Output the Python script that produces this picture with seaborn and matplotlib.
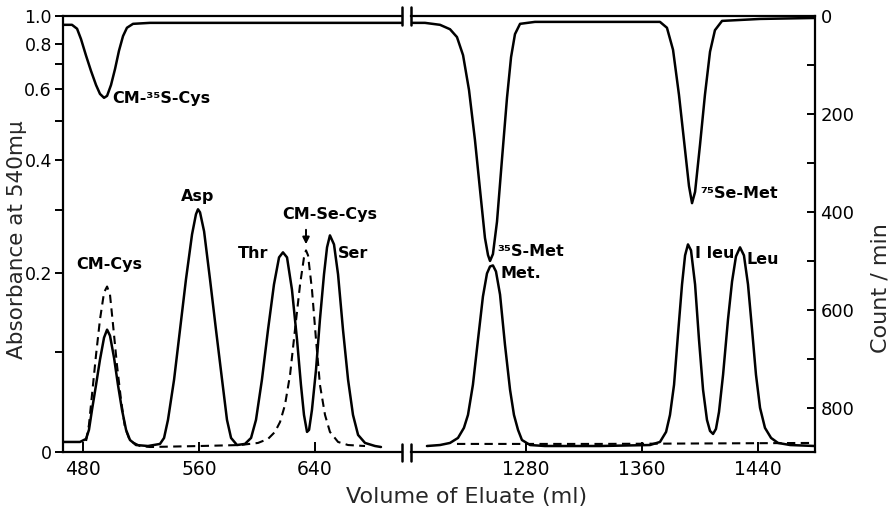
import numpy as np
import matplotlib
matplotlib.use("Agg")
import matplotlib.pyplot as plt
from matplotlib.lines import Line2D
import seaborn as sns

# ---------------- data ----------------
left_ml_solid = [466.2, 477.9, 482.1, 484.1, 486.2, 489.0, 491.7, 494.5, 496.6, 498.6, 501.4, 504.1,
                 506.9, 509.7, 512.4, 516.6, 524.8, 533.1, 535.9, 538.6, 542.8, 546.9, 551.0, 555.2,
                 557.9, 559.3, 560.7, 563.5, 567.6, 571.7, 575.9, 579.3, 582.1, 586.2, 591.7, 595.9,
                 599.3, 603.4, 607.6, 611.7, 615.2, 617.9, 620.7, 624.1, 627.6, 630.3, 632.4, 634.5,
                 635.9, 637.9, 640.7, 643.4, 646.2, 648.3, 650.3, 653.1, 655.9, 659.3, 662.8, 666.2,
                 669.7, 674.5, 681.4, 685.5]
left_abs_solid = [0.0091, 0.0091, 0.0119, 0.0203, 0.0395, 0.0649, 0.0918, 0.1169, 0.1264, 0.1193, 0.0940, 0.0649,
                  0.0395, 0.0203, 0.0109, 0.0063, 0.0054, 0.0073, 0.0128, 0.0298, 0.0702, 0.1264, 0.1912, 0.2591,
                  0.2930, 0.3019, 0.2965, 0.2640, 0.1912, 0.1264, 0.0702, 0.0298, 0.0128, 0.0063, 0.0073, 0.0128,
                  0.0298, 0.0702, 0.1264, 0.1843, 0.2231, 0.2307, 0.2231, 0.1774, 0.1146, 0.0649, 0.0346, 0.0184,
                  0.0203, 0.0395, 0.0809, 0.1387, 0.1983, 0.2384, 0.2574, 0.2430, 0.1983, 0.1264, 0.0702, 0.0346,
                  0.0156, 0.0082, 0.0054, 0.0045]

left_ml_dash = [482.1, 484.1, 486.2, 489.0, 491.7, 494.5, 496.6, 498.6, 500.7, 503.4, 506.2, 509.0,
                512.4, 519.3, 526.2, 560.7, 588.3, 600.7, 607.6, 612.4, 615.9, 619.3, 622.8, 626.2,
                629.7, 632.4, 633.8, 635.2, 637.9, 640.7, 643.4, 646.9, 650.3, 655.9, 662.8, 674.5]
left_abs_dash = [0.0100, 0.0250, 0.0546, 0.0974, 0.1387, 0.1734, 0.1815, 0.1707, 0.1325, 0.0863, 0.0495, 0.0222,
                 0.0100, 0.0054, 0.0045, 0.0054, 0.0063, 0.0082, 0.0119, 0.0184, 0.0278, 0.0444, 0.0754, 0.1264,
                 0.1843, 0.2231, 0.2337, 0.2261, 0.1774, 0.1146, 0.0649, 0.0346, 0.0184, 0.0091, 0.0063, 0.0054]

left_ml_count = [466.2, 472.4, 475.9, 478.6, 482.1, 485.5, 489.0, 491.7, 494.5, 496.6, 499.3, 502.1,
                 504.8, 507.6, 510.3, 514.5, 526.2, 595.2, 700.0]
left_count = [18, 18, 26, 47, 81, 112, 141, 159, 167, 163, 141, 108,
              71, 41, 24, 16, 14, 14, 14]

right_ml_solid = [1211.7, 1220.7, 1227.6, 1233.1, 1237.2, 1240.0, 1243.4, 1246.9, 1250.3, 1253.1, 1255.2, 1257.2,
                  1259.3, 1262.1, 1265.5, 1269.0, 1271.7, 1274.5, 1277.2, 1282.8, 1293.1, 1331.0, 1365.5, 1372.4,
                  1376.6, 1379.3, 1382.1, 1384.8, 1387.6, 1389.7, 1391.7, 1393.8, 1396.6, 1399.3, 1402.1, 1404.8,
                  1406.9, 1409.0, 1411.0, 1413.1, 1415.9, 1419.3, 1422.1, 1424.8, 1427.6, 1430.3, 1433.1, 1435.9,
                  1438.6, 1441.4, 1444.8, 1449.0, 1453.8, 1462.1, 1479.3]
right_abs_solid = [0.0054, 0.0063, 0.0082, 0.0128, 0.0222, 0.0346, 0.0649, 0.1146, 0.1681, 0.1997, 0.2097, 0.2112,
                   0.2025, 0.1707, 0.1088, 0.0597, 0.0346, 0.0203, 0.0109, 0.0063, 0.0054, 0.0054, 0.0063, 0.0091,
                   0.0184, 0.0346, 0.0649, 0.1205, 0.1843, 0.2261, 0.2430, 0.2337, 0.1843, 0.1146, 0.0597, 0.0298,
                   0.0193, 0.0165, 0.0212, 0.0375, 0.0754, 0.1387, 0.1884, 0.2246, 0.2384, 0.2261, 0.1843, 0.1264,
                   0.0754, 0.0415, 0.0222, 0.0128, 0.0082, 0.0063, 0.0054]

right_ml_dash = [1232.4, 1331.0, 1479.3]
right_abs_dash = [0.0073, 0.0073, 0.0082]

right_ml_count = [1200.7, 1210.3, 1220.7, 1227.6, 1232.4, 1236.6, 1240.7, 1244.8, 1248.3, 1251.7, 1253.8, 1255.2,
                  1257.2, 1260.0, 1263.4, 1266.9, 1269.7, 1272.4, 1275.9, 1286.2, 1372.4, 1377.2, 1381.4, 1385.5,
                  1389.7, 1392.4, 1394.5, 1396.6, 1400.0, 1403.4, 1406.9, 1410.3, 1415.2, 1441.4, 1479.3]
right_count = [14, 14, 18, 27, 43, 80, 151, 253, 355, 453, 488, 500,
               486, 420, 294, 167, 84, 37, 16, 12, 12, 24, 69, 161,
               274, 347, 382, 359, 263, 161, 73, 29, 10, 6, 4]

left_xticks = [480, 560, 640]
right_xticks = [1280, 1360, 1440]
abs_ticks = [0, 0.2, 0.4, 0.6, 0.8, 1.0]
abs_labels = ["0", "0.2", "0.4", "0.6", "0.8", "1.0"]
abs_minor = [0.1, 0.3, 0.5, 0.7]
count_ticks = [0, 200, 400, 600, 800]
count_minor = [100, 300, 500, 700]

# ---------------- figure ----------------
sns.set_theme(style="white")
plt.rcParams["font.family"] = ["DejaVu Sans"]

W, H = 896, 515
fig = plt.figure(figsize=(W / 100, H / 100), dpi=100)


def fx(px):
    return px / W


def fy(py):
    return 1 - py / H


TOP, BOT = 16, 452
axL = fig.add_axes([fx(63), fy(BOT), fx(402) - fx(63), fy(TOP) - fy(BOT)])
axR = fig.add_axes([fx(411), fy(BOT), fx(815) - fx(411), fy(TOP) - fy(BOT)])


def fwd(a):
    return 1 - np.power(10.0, -np.asarray(a, dtype=float))


def inv(t):
    return -np.log10(np.clip(1 - np.asarray(t, dtype=float), 1e-12, None))


for ax in (axL, axR):
    ax.set_yscale("function", functions=(fwd, inv))
    ax.set_ylim(0, 1.0)
axL.set_xlim(466.2, 700.0)
axR.set_xlim(1200.7, 1479.3)

cL = axL.twinx()
cR = axR.twinx()
for c in (cL, cR):
    c.set_ylim(890, 0)

LW = 1.8
sns.lineplot(x=left_ml_solid, y=left_abs_solid, ax=axL, color="black", lw=LW, estimator=None, sort=False)
sns.lineplot(x=left_ml_dash, y=left_abs_dash, ax=axL, color="black", lw=1.5, estimator=None, sort=False)
axL.lines[-1].set_dashes([4, 2.6])
sns.lineplot(x=left_ml_count, y=left_count, ax=cL, color="black", lw=LW, estimator=None, sort=False)

sns.lineplot(x=right_ml_solid, y=right_abs_solid, ax=axR, color="black", lw=LW, estimator=None, sort=False)
sns.lineplot(x=right_ml_dash, y=right_abs_dash, ax=axR, color="black", lw=1.5, estimator=None, sort=False)
axR.lines[-1].set_dashes([4, 2.6])
sns.lineplot(x=right_ml_count, y=right_count, ax=cR, color="black", lw=LW, estimator=None, sort=False)

SPW = 1.6
# left panel
axL.spines["right"].set_visible(False)
for s in ("left", "top", "bottom"):
    axL.spines[s].set_linewidth(SPW)
    axL.spines[s].set_color("black")
axL.set_yticks(abs_ticks)
axL.set_yticklabels(abs_labels)
axL.set_yticks(abs_minor, minor=True)
axL.tick_params(axis="y", which="both", direction="out", length=6, width=1.4, labelsize=12.5, pad=2,
                left=True, colors="black")
axL.set_xticks(left_xticks)
axL.tick_params(axis="x", which="both", direction="in", length=7, width=1.4, labelsize=13.5, pad=6,
                bottom=True, top=False, colors="black")
axL.set_xlabel("")
axL.set_ylabel("")
cL.axis("off")

# right panel
axR.spines["left"].set_visible(False)
axR.spines["right"].set_visible(False)
for s in ("top", "bottom"):
    axR.spines[s].set_linewidth(SPW)
    axR.spines[s].set_color("black")
axR.set_yticks([])
axR.set_yticks([], minor=True)
axR.set_xticks(right_xticks)
axR.tick_params(axis="x", which="both", direction="in", length=7, width=1.4, labelsize=13.5, pad=6,
                bottom=True, top=False, colors="black")
axR.set_xlabel("")
axR.set_ylabel("")
for s in ("left", "top", "bottom"):
    cR.spines[s].set_visible(False)
cR.spines["right"].set_linewidth(SPW)
cR.spines["right"].set_color("black")
cR.set_yticks(count_ticks)
cR.set_yticks(count_minor, minor=True)
cR.tick_params(axis="y", which="both", direction="in", length=6, width=1.4, labelsize=13, pad=4,
               right=True, left=False, colors="black")
cR.set_ylabel("")
cR.set_xlabel("")

# break marks
for px in (402, 411):
    for (y0, y1) in ((444, 461), (7, 25)):
        fig.add_artist(Line2D([fx(px), fx(px)], [fy(y0), fy(y1)], color="black", lw=1.8))

# axis labels
fig.text(fx(467), fy(497), "Volume of Eluate (ml)", ha="center", va="center", fontsize=16)
fig.text(fx(17), fy(240), "Absorbance at 540mμ", ha="center", va="center", rotation=90, fontsize=15.5)
fig.text(fx(880), fy(288), "Count / min", ha="center", va="center", rotation=90, fontsize=16)

# peak labels
lab = dict(fontsize=11.5, fontweight="bold", va="center", color="black")
fig.text(fx(112), fy(98), "CM-³⁵S-Cys", ha="left", **lab)
fig.text(fx(109), fy(265), "CM-Cys", ha="center", **lab)
fig.text(fx(198), fy(197), "Asp", ha="center", **lab)
fig.text(fx(253), fy(253), "Thr", ha="center", **lab)
fig.text(fx(330), fy(215), "CM-Se-Cys", ha="center", **lab)
fig.text(fx(353), fy(253), "Ser", ha="center", **lab)
fig.text(fx(497), fy(251), "³⁵S-Met", ha="left", **lab)
fig.text(fx(500), fy(273), "Met.", ha="left", **lab)
fig.text(fx(695), fy(254), "I leu", ha="left", **lab)
fig.text(fx(746), fy(260), "Leu", ha="left", **lab)
fig.text(fx(700), fy(193), "⁷⁵Se-Met", ha="left", **lab)

fig.add_artist(matplotlib.patches.FancyArrowPatch((fx(306), fy(227)), (fx(306), fy(247)),
                                                  transform=fig.transFigure, arrowstyle="-|>",
                                                  mutation_scale=10, color="black", lw=1.4))

fig.savefig("out.png", dpi=100)
